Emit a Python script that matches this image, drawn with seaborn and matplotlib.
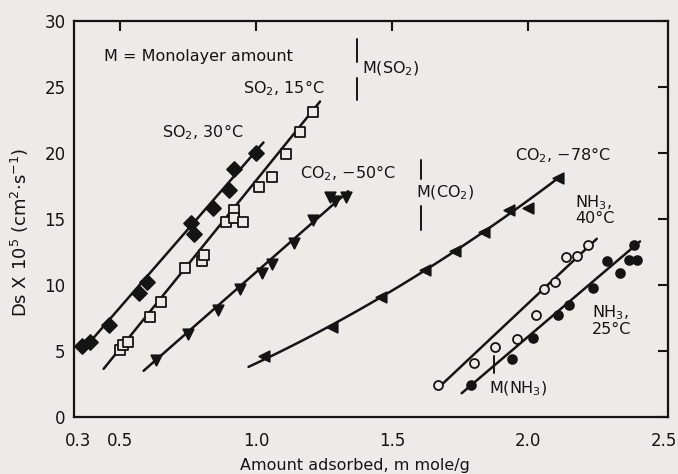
import numpy as np
import pandas as pd
import matplotlib
matplotlib.use("Agg")
import matplotlib.pyplot as plt
import seaborn as sns

# ---------------- data ----------------
so2_30_x = [0.36, 0.39, 0.46, 0.57, 0.60, 0.76, 0.77, 0.84, 0.90, 0.92, 1.00]
so2_30_y = [5.4, 5.7, 7.0, 9.4, 10.2, 14.7, 13.9, 15.8, 17.2, 18.8, 20.0]

so2_15_x = [0.50, 0.51, 0.53, 0.61, 0.65, 0.74, 0.80, 0.81, 0.89, 0.92, 0.92, 0.95,
            1.01, 1.06, 1.11, 1.16, 1.21]
so2_15_y = [5.1, 5.45, 5.7, 7.6, 8.7, 11.3, 11.8, 12.3, 14.8, 15.7, 15.1, 14.8,
            17.4, 18.2, 19.9, 21.6, 23.1]

co2_50_x = [0.63, 0.75, 0.86, 0.94, 1.02, 1.06, 1.14, 1.21, 1.27, 1.29, 1.33]
co2_50_y = [4.3, 6.3, 8.1, 9.7, 10.9, 11.6, 13.2, 14.9, 16.7, 16.4, 16.7]

co2_78_x = [1.03, 1.28, 1.46, 1.62, 1.73, 1.84, 1.93, 2.00, 2.11]
co2_78_y = [4.6, 6.8, 9.1, 11.1, 12.6, 14.0, 15.7, 15.8, 18.1]

nh3_40_x = [1.67, 1.80, 1.88, 1.96, 2.03, 2.06, 2.10, 2.14, 2.18, 2.22]
nh3_40_y = [2.4, 4.1, 5.3, 5.9, 7.7, 9.7, 10.2, 12.1, 12.2, 13.0]

nh3_25_x = [1.79, 1.94, 2.02, 2.11, 2.15, 2.24, 2.29, 2.34, 2.37, 2.40, 2.39]
nh3_25_y = [2.4, 4.4, 6.0, 7.7, 8.5, 9.8, 11.8, 10.9, 11.9, 11.9, 13.0]

series_names = ["SO2 30C", "SO2 15C", "CO2 -50C", "CO2 -78C", "NH3 40C", "NH3 25C"]
series_x = [so2_30_x, so2_15_x, co2_50_x, co2_78_x, nh3_40_x, nh3_25_x]
series_y = [so2_30_y, so2_15_y, co2_50_y, co2_78_y, nh3_40_y, nh3_25_y]

# hand-drawn trend lines (knots)
line_knots_x = [[0.364, 1.027], [0.439, 1.235], [0.586, 1.339],
                [0.972, 1.55, 2.124], [1.68, 2.253], [1.756, 2.412]]
line_knots_y = [[5.1, 20.8], [3.65, 23.9], [3.5, 17.1],
                [3.8, 10.2, 18.3], [2.4, 13.5], [1.8, 13.3]]

series_labels = ["SO$_2$, 30°C", "SO$_2$, 15°C", "CO$_2$, −50°C",
                 "CO$_2$, −78°C", "NH$_3$,\n40°C", "NH$_3$,\n25°C"]
label_x = [0.653, 0.95, 1.162, 1.952, 2.173, 2.235]
label_y = [21.6, 24.9, 18.5, 19.85, 15.7, 7.35]

mono_labels = ["M(SO$_2$)", "M(CO$_2$)", "M(NH$_3$)"]
mono_x = [1.37, 1.607, 1.876]
mono_lower = [(24.0, 25.7), (14.2, 16.0), (3.3, 4.6)]
mono_upper = [(26.9, 28.6), (18.0, 19.5), None]
mono_text_x = [1.39, 1.588, 1.857]
mono_text_y = [26.4, 17.0, 2.1]

x_ticks = [0.345, 0.5, 1.0, 1.5, 2.0, 2.5]
x_tick_labels = ["0.3", "0.5", "1.0", "1.5", "2.0", "2.5"]
y_ticks = [0, 5, 10, 15, 20, 25, 30]

# ---------------- style ----------------
bg = "#ecebe7"
ink = "#141414"
sns.set_theme(style="white")
plt.rcParams["font.family"] = ["DejaVu Sans"]
plt.rcParams["mathtext.fontset"] = "dejavusans"

markers = ["D", "s", "v", "<", "o", "o"]
filled = [True, False, True, True, False, True]
sizes = [58, 50, 56, 56, 42, 40]

fig = plt.figure(figsize=(6.78, 4.74), dpi=100, facecolor=bg)
ax = fig.add_axes([74 / 678, 1 - 417 / 474, 594 / 678, 396 / 474])
ax.set_facecolor(bg)

df = pd.concat(
    [pd.DataFrame({"series": n, "x": xs, "y": ys})
     for n, xs, ys in zip(series_names, series_x, series_y)],
    ignore_index=True,
)

for i, name in enumerate(series_names):
    d = df[df["series"] == name]
    kx, ky = line_knots_x[i], line_knots_y[i]
    coef = np.polyfit(kx, ky, len(kx) - 1)
    gx = np.linspace(kx[0], kx[-1], 80)
    sns.lineplot(x=gx, y=np.polyval(coef, gx), color=ink, lw=1.8, ax=ax,
                 zorder=2, estimator=None, sort=False)
    sns.scatterplot(data=d, x="x", y="y", marker=markers[i], s=sizes[i],
                    color=ink if filled[i] else bg, edgecolor=ink,
                    linewidth=1.3, ax=ax, zorder=3)
    ax.text(label_x[i], label_y[i], series_labels[i], fontsize=11.5, color=ink,
            ha="left", va="center", linespacing=0.95)

for i in range(len(mono_labels)):
    lo = mono_lower[i]
    ax.plot([mono_x[i], mono_x[i]], list(lo), color=ink, lw=1.4)
    if mono_upper[i] is not None:
        ax.plot([mono_x[i], mono_x[i]], list(mono_upper[i]), color=ink, lw=1.4)
    ax.text(mono_text_x[i], mono_text_y[i], mono_labels[i], fontsize=11.5,
            color=ink, ha="left", va="center")

ax.text(0.439, 27.3, "M = Monolayer amount", fontsize=11.5, color=ink,
        ha="left", va="center")

ax.set_xlim(0.33, 2.515)
ax.set_ylim(0, 30)
ax.set_xticks(x_ticks)
ax.set_xticklabels(x_tick_labels)
ax.set_yticks(y_ticks)
ax.tick_params(axis="both", direction="in", length=7, width=1.5, colors=ink,
               top=True, right=True, labelsize=12)
ax.tick_params(axis="x", pad=11)
ax.tick_params(axis="y", pad=6)
for t in (ax.xaxis.get_major_ticks()[0], ax.xaxis.get_major_ticks()[-1]):
    t.tick1line.set_visible(False)
    t.tick2line.set_visible(False)

for s in ax.spines.values():
    s.set_visible(True)
    s.set_color(ink)
    s.set_linewidth(1.6)

ax.set_xlabel("Amount adsorbed, m mole/g", fontsize=11.5, color=ink)
ax.set_ylabel("Ds X 10$^5$ (cm$^2$·s$^{-1}$)", fontsize=13, color=ink)
ax.xaxis.set_label_coords(0.473, -0.103)
ax.yaxis.set_label_coords(-0.072, 0.465)

fig.savefig("out.png", dpi=100, facecolor=bg)
